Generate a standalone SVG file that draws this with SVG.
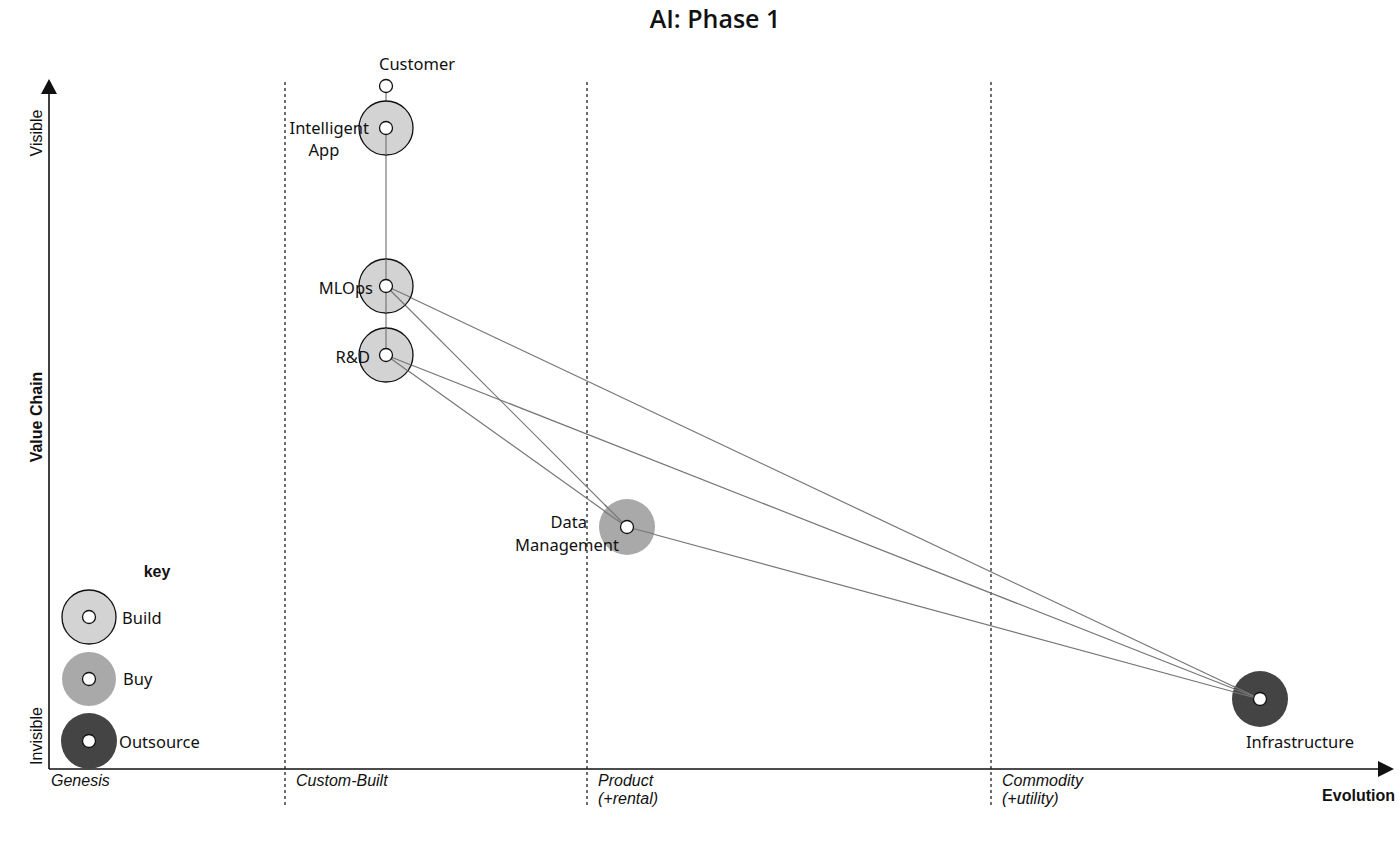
<svg xmlns="http://www.w3.org/2000/svg" width="1400" height="843" viewBox="0 0 1400 843">
<style>
.lbl{font-family:"Noto Sans","DejaVu Sans",sans-serif;font-size:16.5px;fill:#111}
.ax{font-family:"Liberation Sans",Arial,sans-serif;font-size:16px;fill:#111}
.it{font-family:"Liberation Sans",Arial,sans-serif;font-size:16px;font-style:italic;fill:#111}
.bd{font-family:"Liberation Sans",Arial,sans-serif;font-size:16px;font-weight:bold;fill:#111}
.dash{stroke:#222;stroke-width:1.3;stroke-dasharray:3,3;fill:none}
.edge{stroke:#777;stroke-width:1.2;fill:none}
.build{fill:#d3d3d3;stroke:#111;stroke-width:1.3}
.buy{fill:#a9a9a9;stroke:none}
.out{fill:#444;stroke:none}
.dot{fill:#fff;stroke:#111;stroke-width:1.3}
</style>
<rect width="1400" height="843" fill="#fff"/>
<text x="715" y="28" text-anchor="middle" font-family="'Open Sans','Noto Sans',sans-serif" font-size="25" font-weight="600" fill="#111">AI: Phase 1</text>
<g id="axes">
<line x1="49" y1="92" x2="49" y2="769" stroke="#111" stroke-width="1.6"/>
<polygon points="49,79 41,94 57,94" fill="#111"/>
<line x1="49" y1="769" x2="1380" y2="769" stroke="#111" stroke-width="1.6"/>
<polygon points="1394,769 1378,761 1378,777" fill="#111"/>
<line class="dash" x1="285" y1="82" x2="285" y2="806"/>
<line class="dash" x1="587" y1="82" x2="587" y2="806"/>
<line class="dash" x1="991" y1="82" x2="991" y2="806"/>
<text class="ax" transform="translate(42,133) rotate(-90)" text-anchor="middle">Visible</text>
<text class="ax" transform="translate(42,736) rotate(-90)" text-anchor="middle">Invisible</text>
<text class="bd" transform="translate(42,417) rotate(-90)" text-anchor="middle">Value Chain</text>
<text class="it" x="51" y="786">Genesis</text>
<text class="it" x="296" y="786">Custom-Built</text>
<text class="it" x="598" y="786">Product</text>
<text class="it" x="598" y="804">(+rental)</text>
<text class="it" x="1002" y="786">Commodity</text>
<text class="it" x="1002" y="804">(+utility)</text>
<text class="bd" x="1395" y="801" text-anchor="end">Evolution</text>
</g>
<g id="connectors">
<line class="edge" x1="386" y1="86" x2="386" y2="355"/>
<line class="edge" x1="386" y1="286" x2="627" y2="527"/>
<line class="edge" x1="386" y1="286" x2="1260" y2="699"/>
<line class="edge" x1="386" y1="355" x2="627" y2="527"/>
<line class="edge" x1="386" y1="355" x2="1260" y2="699"/>
<line class="edge" x1="627" y1="527" x2="1260" y2="699"/>
</g>
<g id="customer">
<circle class="dot" cx="386" cy="86" r="6.5"/>
<text class="lbl" x="417" y="70" text-anchor="middle">Customer</text>
</g>
<g id="intelligent-app">
<circle class="build" cx="386" cy="128" r="27"/>
<line class="edge" x1="386" y1="128" x2="386" y2="155"/>
<circle class="dot" cx="386" cy="128" r="6.5"/>
<text class="lbl" x="369" y="134" text-anchor="end">Intelligent</text>
<text class="lbl" x="324" y="156" text-anchor="middle">App</text>
</g>
<g id="mlops">
<circle class="build" cx="386" cy="286" r="27"/>
<line class="edge" x1="386" y1="259" x2="386" y2="313"/>
<line class="edge" x1="386" y1="286" x2="405" y2="305"/>
<line class="edge" x1="386" y1="286" x2="410" y2="297"/>
<circle class="dot" cx="386" cy="286" r="6.5"/>
<text class="lbl" x="373" y="294" text-anchor="end">MLOps</text>
</g>
<g id="rnd">
<circle class="build" cx="386" cy="355" r="27"/>
<line class="edge" x1="386" y1="328" x2="386" y2="355"/>
<line class="edge" x1="386" y1="355" x2="408" y2="371"/>
<line class="edge" x1="386" y1="355" x2="411" y2="365"/>
<circle class="dot" cx="386" cy="355" r="6.5"/>
<text class="lbl" x="370" y="363" text-anchor="end">R&amp;D</text>
</g>
<g id="data-management">
<circle class="buy" cx="627" cy="527" r="28"/>
<line class="edge" x1="627" y1="527" x2="605" y2="505"/>
<line class="edge" x1="627" y1="527" x2="604" y2="511"/>
<line class="edge" x1="627" y1="527" x2="654" y2="534"/>
<circle class="dot" cx="627" cy="527" r="6.5"/>
<text class="lbl" x="587" y="528" text-anchor="end">Data</text>
<text class="lbl" x="619" y="551" text-anchor="end">Management</text>
</g>
<g id="infrastructure">
<circle class="out" cx="1260" cy="699" r="28"/>
<line class="edge" x1="1260" y1="699" x2="1233" y2="686"/>
<line class="edge" x1="1260" y1="699" x2="1234" y2="689"/>
<line class="edge" x1="1260" y1="699" x2="1233" y2="692"/>
<circle class="dot" cx="1260" cy="699" r="6.5"/>
<text class="lbl" x="1300" y="748" text-anchor="middle">Infrastructure</text>
</g>
<g id="key">
<text class="bd" x="157" y="577" text-anchor="middle">key</text>
<circle class="build" cx="89" cy="617" r="27"/>
<circle class="dot" cx="89" cy="617" r="6.5"/>
<text class="lbl" x="122" y="624">Build</text>
<circle class="buy" cx="89" cy="679" r="27"/>
<circle class="dot" cx="89" cy="679" r="6.5"/>
<text class="lbl" x="123" y="685">Buy</text>
<circle class="out" cx="89" cy="741" r="28"/>
<circle class="dot" cx="89" cy="741" r="6.5"/>
<text class="lbl" x="119" y="748">Outsource</text>
</g>
</svg>
